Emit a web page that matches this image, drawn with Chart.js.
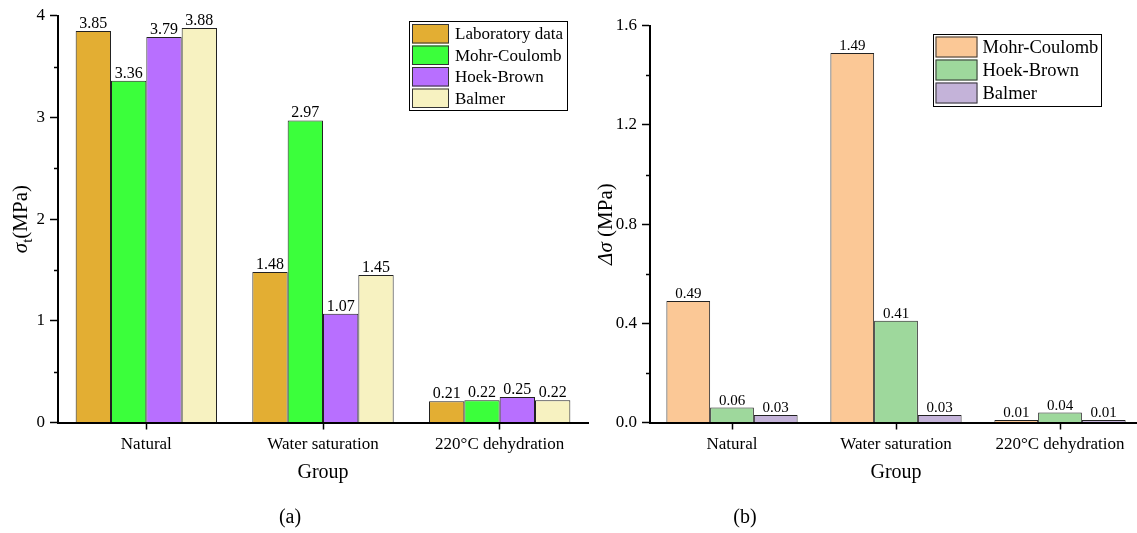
<!DOCTYPE html>
<html>
<head>
<meta charset="utf-8">
<script src="https://cdn.jsdelivr.net/npm/chart.js@4.4.1/dist/chart.umd.min.js"></script>
<style>
html, body { margin: 0; padding: 0; background: #fff; width: 1137px; height: 533px; overflow: hidden; position: relative; }
canvas { position: absolute; top: 0; }
#cA { left: 0; }
#cB { left: 580px; }
.cap { position: absolute; top: 505px; font-family: 'Liberation Serif', serif; font-size: 20px; transform: translateX(-50%); }
</style>
</head>
<body>
<canvas id="cA" width="600" height="533"></canvas>
<canvas id="cB" width="570" height="533"></canvas>
<div class="cap" style="left:290px">(a)</div>
<div class="cap" style="left:745px">(b)</div>
<script>
// categories
const groups = ['Natural', 'Water saturation', '220°C dehydration'];

// (a) tensile strength, MPa
const seriesA = ['Laboratory data', 'Mohr-Coulomb', 'Hoek-Brown', 'Balmer'];
const labA = [3.85, 1.48, 0.21];
const mcA = [3.36, 2.97, 0.22];
const hbA = [3.79, 1.07, 0.25];
const balA = [3.88, 1.45, 0.22];
const ticksA = [0, 1, 2, 3, 4];

// (b) deviation from lab data, MPa
const seriesB = ['Mohr-Coulomb', 'Hoek-Brown', 'Balmer'];
const mcB = [0.49, 1.49, 0.01];
const hbB = [0.06, 0.41, 0.04];
const balB = [0.03, 0.03, 0.01];
const ticksB = [0, 0.4, 0.8, 1.2, 1.6];

const serif = "'Liberation Serif', 'Times New Roman', serif";

// numbers over the bars
const valueLabels = {
    id: 'valueLabels',
    afterDatasetsDraw(chart, args, o) {
        const ctx = chart.ctx;
        ctx.save();
        ctx.font = o.size + 'px ' + serif;
        ctx.fillStyle = '#000';
        ctx.textAlign = 'center';
        ctx.textBaseline = 'alphabetic';
        chart.data.datasets.forEach((ds, i) => {
            chart.getDatasetMeta(i).data.forEach((bar, j) => {
                ctx.fillText(ds.data[j].toFixed(2), bar.x, bar.y - 3);
            });
        });
        ctx.restore();
    }
};

// short ticks halfway between the labelled ones
const minorTicks = {
    id: 'minorTicks',
    afterDraw(chart) {
        const y = chart.scales.y, ctx = chart.ctx;
        const step = y.options.ticks.stepSize / 2;
        ctx.save();
        ctx.strokeStyle = '#000';
        ctx.lineWidth = 1.5;
        for (let v = y.min + step; v < y.max; v += step * 2) {
            const py = Math.round(y.getPixelForValue(v)) + 0.5;
            ctx.beginPath();
            ctx.moveTo(y.right - 4, py);
            ctx.lineTo(y.right, py);
            ctx.stroke();
        }
        ctx.restore();
    }
};

// boxed legend like the original
const boxLegend = {
    id: 'boxLegend',
    afterDraw(chart, args, o) {
        const ctx = chart.ctx;
        ctx.save();
        ctx.fillStyle = '#fff';
        ctx.fillRect(o.x, o.y, o.w, o.h);
        ctx.strokeStyle = '#000';
        ctx.lineWidth = 1;
        ctx.strokeRect(o.x + 0.5, o.y + 0.5, o.w, o.h);
        ctx.font = o.size + 'px ' + serif;
        ctx.textAlign = 'left';
        ctx.textBaseline = 'middle';
        chart.data.datasets.forEach((ds, i) => {
            const top = o.y + o.pad + i * o.row;
            const h = o.row - 2;
            ctx.fillStyle = ds.backgroundColor;
            ctx.fillRect(o.x + o.pad, top, o.sw, h);
            ctx.strokeStyle = '#333';
            ctx.strokeRect(o.x + o.pad + 0.5, top + 0.5, o.sw - 1, h - 1);
            ctx.fillStyle = '#000';
            ctx.fillText(ds.label, o.x + o.pad + o.sw + o.gap, top + h / 2 + 1);
        });
        ctx.restore();
    }
};

// rotated y title with italic greek / subscript parts
const yTitle = {
    id: 'yTitle',
    afterDraw(chart, args, o) {
        const ctx = chart.ctx, a = chart.chartArea;
        const fontOf = p => (p.italic ? 'italic ' : '') + (p.sub ? o.size * 0.7 : o.size) + 'px ' + serif;
        ctx.save();
        ctx.translate(o.x, (a.top + a.bottom) / 2);
        ctx.rotate(-Math.PI / 2);
        ctx.fillStyle = '#000';
        ctx.textBaseline = 'alphabetic';
        let total = 0;
        o.parts.forEach(p => { ctx.font = fontOf(p); total += ctx.measureText(p.text).width; });
        let cx = -total / 2;
        o.parts.forEach(p => {
            ctx.font = fontOf(p);
            ctx.fillText(p.text, cx, o.size * 0.35 + (p.sub ? o.size * 0.22 : 0));
            cx += ctx.measureText(p.text).width;
        });
        ctx.restore();
    }
};

function xScale(h) {
    return {
        grid: { offset: false, drawOnChartArea: false, tickLength: 7, tickColor: '#000', tickWidth: 1.5 },
        border: { color: '#000', width: 2 },
        ticks: { color: '#000', padding: 5, font: { family: serif, size: 17 } },
        title: { display: true, text: 'Group', color: '#000', font: { family: serif, size: 20 }, padding: { top: 4, bottom: 48 } },
        afterFit: s => { s.height = h; }
    };
}

function yScale(ticks, w, size, pad, fmt) {
    return {
        min: ticks[0],
        max: ticks[ticks.length - 1],
        grid: { drawOnChartArea: false, tickLength: 8, tickColor: '#000', tickWidth: 1.5 },
        border: { color: '#000', width: 2 },
        ticks: { stepSize: ticks[1] - ticks[0], color: '#000', padding: pad, font: { family: serif, size: size }, callback: fmt },
        afterFit: s => { s.width = w; }
    };
}

new Chart(document.getElementById('cA'), {
    type: 'bar',
    data: {
        labels: groups,
        datasets: [
            { label: seriesA[0], data: labA, backgroundColor: '#E3AE33' },
            { label: seriesA[1], data: mcA, backgroundColor: '#3BFF3B' },
            { label: seriesA[2], data: hbA, backgroundColor: '#B86FFF' },
            { label: seriesA[3], data: balA, backgroundColor: '#F7F2C1' }
        ]
    },
    options: {
        responsive: false,
        animation: false,
        layout: { padding: { top: 15.7, right: 12, left: 0, bottom: 0 } },
        datasets: { bar: { categoryPercentage: 0.8, barPercentage: 1, borderColor: '#222', borderWidth: 1 } },
        plugins: {
            legend: { display: false },
            tooltip: { enabled: false },
            valueLabels: { size: 16 },
            boxLegend: { x: 409, y: 21, w: 158, h: 89, pad: 3, row: 21.5, sw: 37, gap: 6, size: 17 },
            yTitle: { x: 20, size: 21, parts: [{ text: 'σ', italic: true }, { text: 't', sub: true }, { text: '(MPa)' }] }
        },
        scales: {
            x: xScale(110.5),
            y: yScale(ticksA, 58, 17, 5, v => v)
        }
    },
    plugins: [valueLabels, minorTicks, boxLegend, yTitle]
});

new Chart(document.getElementById('cB'), {
    type: 'bar',
    data: {
        labels: groups,
        datasets: [
            { label: seriesB[0], data: mcB, backgroundColor: '#FBC896' },
            { label: seriesB[1], data: hbB, backgroundColor: '#9ED89C' },
            { label: seriesB[2], data: balB, backgroundColor: '#C4B3D9' }
        ]
    },
    options: {
        responsive: false,
        animation: false,
        layout: { padding: { top: 25.7, right: 8, left: 0, bottom: 0 } },
        datasets: { bar: { categoryPercentage: 0.8, barPercentage: 1, borderColor: '#222', borderWidth: 1 } },
        plugins: {
            legend: { display: false },
            tooltip: { enabled: false },
            valueLabels: { size: 15 },
            boxLegend: { x: 353, y: 34, w: 168, h: 72, pad: 2.5, row: 23, sw: 42, gap: 5, size: 18.5 },
            yTitle: { x: 25, size: 21, parts: [{ text: 'Δσ', italic: true }, { text: ' (MPa)' }] }
        },
        scales: {
            x: xScale(110.5),
            y: yScale(ticksB, 70, 17, 5, v => Number(v).toFixed(1))
        }
    },
    plugins: [valueLabels, minorTicks, boxLegend, yTitle]
});
</script>
</body>
</html>
